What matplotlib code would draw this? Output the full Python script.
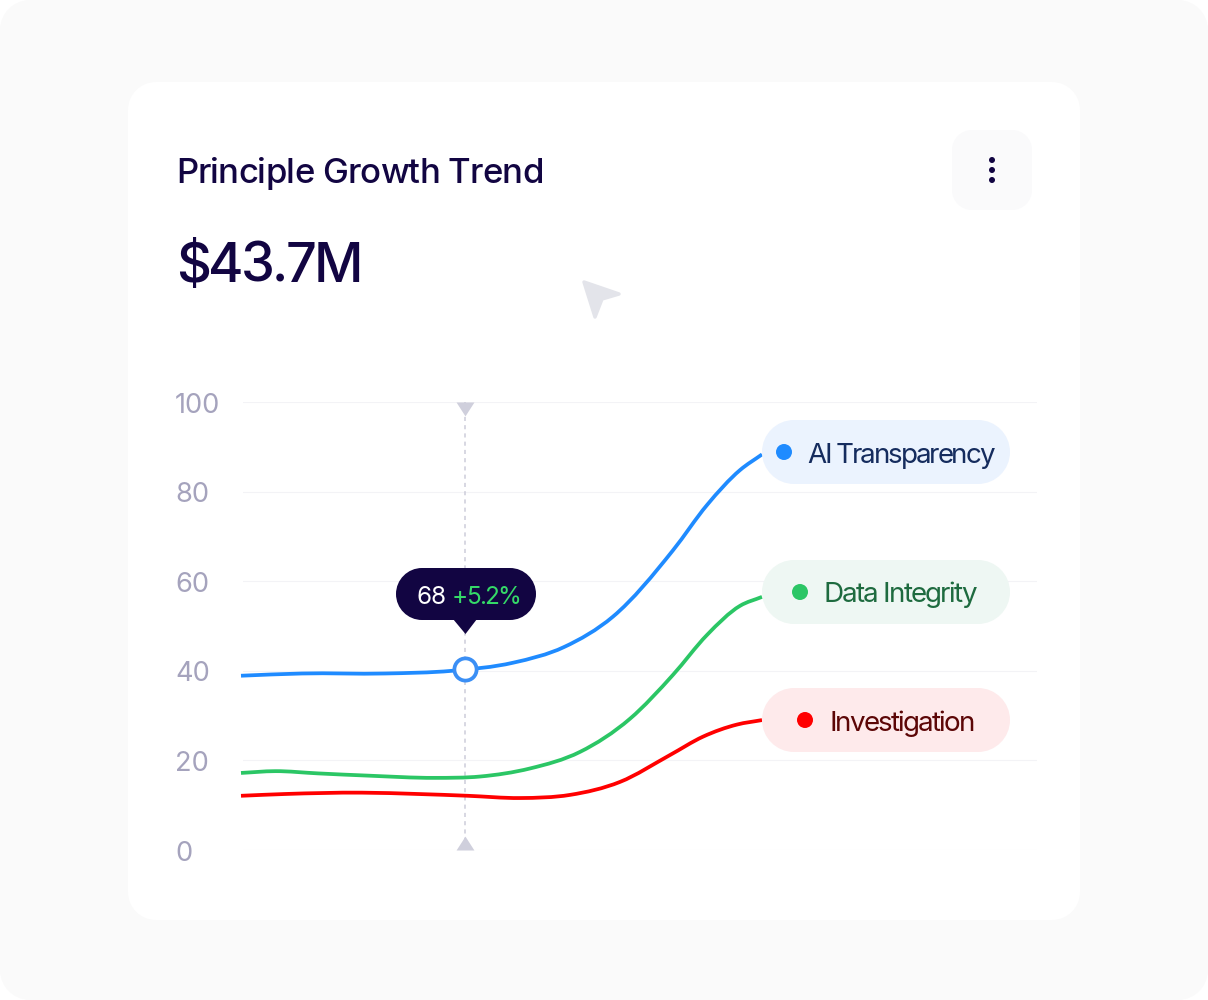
import numpy as np
import matplotlib
matplotlib.use("Agg")
import matplotlib.pyplot as plt
from matplotlib.patches import PathPatch, Polygon, Circle
from matplotlib.path import Path
from matplotlib.text import Text
from matplotlib.transforms import Affine2D, IdentityTransform

plt.rcParams["font.family"] = ["Inter", "DejaVu Sans"]

# values, x is the horizontal position along the chart
y_ticks = [0, 20, 40, 60, 80, 100]

blue_x = [241, 302, 385, 452, 513, 564, 613, 673, 707, 740, 762]
blue_y = [38.9, 39.4, 39.4, 40.0, 41.8, 45.3, 52.1, 66.9, 77.0, 84.8, 88.3]
green_x = [241, 275, 318, 368, 435, 480, 530, 580, 630, 673, 707, 740, 762]
green_y = [17.2, 17.6, 17.1, 16.6, 16.1, 16.4, 18.2, 21.9, 29.3, 39.1, 48.0, 54.5, 56.5]
red_x = [241, 285, 362, 418, 468, 520, 570, 620, 670, 703, 737, 762]
red_y = [12.1, 12.5, 12.8, 12.5, 12.1, 11.6, 12.3, 15.2, 21.2, 25.3, 28.0, 29.0]

marker_x = 465
marker_y = 40.3

W, H = 1208, 1000
NAVY = "#120542"


def smooth_path(xs, ys):
    # hermite through the points, written as cubic beziers
    x = np.asarray(xs, float)
    y = np.asarray(ys, float)
    m = np.gradient(y, x)
    verts = [(x[0], y[0])]
    codes = [Path.MOVETO]
    for i in range(len(x) - 1):
        d = (x[i + 1] - x[i]) / 3
        verts += [(x[i] + d, y[i] + d * m[i]), (x[i + 1] - d, y[i + 1] - d * m[i + 1]), (x[i + 1], y[i + 1])]
        codes += [Path.CURVE4] * 3
    return Path(verts, codes)


def rounded(ax, x0, y0, x1, y1, r, color, z=1):
    k = r * 0.4477
    verts = [(x0 + r, y0), (x1 - r, y0),
             (x1 - k, y0), (x1, y0 + k), (x1, y0 + r), (x1, y1 - r),
             (x1, y1 - k), (x1 - k, y1), (x1 - r, y1), (x0 + r, y1),
             (x0 + k, y1), (x0, y1 - k), (x0, y1 - r), (x0, y0 + r),
             (x0, y0 + k), (x0 + k, y0), (x0 + r, y0), (x0 + r, y0)]
    codes = [Path.MOVETO, Path.LINETO,
             Path.CURVE4, Path.CURVE4, Path.CURVE4, Path.LINETO,
             Path.CURVE4, Path.CURVE4, Path.CURVE4, Path.LINETO,
             Path.CURVE4, Path.CURVE4, Path.CURVE4, Path.LINETO,
             Path.CURVE4, Path.CURVE4, Path.CURVE4, Path.CLOSEPOLY]
    ax.add_patch(PathPatch(Path(verts, codes), fc=color, ec="none", zorder=z))


class TrackedText(Text):
    # one text whose letters are drawn closer together, tracking is in pixels
    def __init__(self, *args, tracking=0, **kwargs):
        super().__init__(*args, **kwargs)
        self.tracking = tracking

    def draw(self, renderer):
        s = self.get_text()
        fp = self.get_fontproperties()
        px, py = self.get_transform().transform(self.get_position())

        def width(sub):
            return renderer.get_text_width_height_descent(sub, fp, False)[0]

        for i, ch in enumerate(s):
            if ch == " ":
                continue
            off = width(s[:i + 1]) - width(ch) + i * self.tracking
            t = Text(px + off, py, ch, color=self.get_color(), fontproperties=fp, va="baseline",
                     ha="left", transform=IdentityTransform(), parse_math=False)
            t.set_figure(self.get_figure())
            t.draw(renderer)


def label(ax, x, y, s, size, color, tracking, weight="normal", z=7):
    ax.add_artist(TrackedText(x, y, s, tracking=tracking, fontsize=size, fontweight=weight, color=color,
                              va="baseline", ha="left", zorder=z, parse_math=False))


fig = plt.figure(figsize=(W / 100, H / 100), dpi=100, facecolor="white")

# page layer in pixel coordinates
bg = fig.add_axes([0, 0, 1, 1])
bg.set_xlim(0, W)
bg.set_ylim(H, 0)
bg.axis("off")
rounded(bg, 0, 0, W, H, 30, "#FAFAFA")
rounded(bg, 128, 82, 1080, 920, 28, "#FFFFFF", z=2)
rounded(bg, 952, 130, 1032, 210, 20, "#FAFAFB", z=3)
for cy in (160, 170, 180):
    bg.add_patch(Circle((992, cy), 3, fc=NAVY, ec="none", zorder=4))
bg.add_patch(Polygon([(584, 282), (619, 294), (602, 299), (595, 317)], closed=True,
                     fc="#E3E4EA", ec="#E3E4EA", lw=2.5, joinstyle="round", zorder=4))
label(bg, 176, 183, "Principle Growth Trend", 25, NAVY, -0.76, weight="medium", z=5)
label(bg, 176, 282, "$43.7M", 39, NAVY, -2.8, weight="medium", z=5)

# chart axes
ax = fig.add_axes([243 / W, 1 - 850 / H, (1037 - 243) / W, (850 - 402) / H])
ax.patch.set_alpha(0)
ax.set_xlim(243, 1037)
ax.set_ylim(0, 100)
for s in ax.spines.values():
    s.set_visible(False)
ax.set_xticks([])
ax.set_yticks(y_ticks)
ax.tick_params(axis="y", length=0, pad=49, labelcolor="#A5A3BD", labelsize=19.6)
for tick in ax.yaxis.get_major_ticks():
    tick.label1.set_ha("left")
    tick.label1.set_transform(tick.label1.get_transform() + Affine2D().translate(0, -0.6))
ax.grid(axis="y", color="#F3F3F6", lw=0.8)
ax.set_axisbelow(True)

for xs, ys, c in [(red_x, red_y, "#FF0000"), (green_x, green_y, "#2BC665"), (blue_x, blue_y, "#1F8BFF")]:
    ax.add_patch(PathPatch(smooth_path(xs, ys), fc="none", ec=c, lw=2.7, clip_on=False,
                           capstyle="butt", zorder=3))

tri_down = Path([(-9, 0), (9, 0), (0, -14), (-9, 0)], closed=True)
tri_up = Path([(-9, 0), (9, 0), (0, 14), (-9, 0)], closed=True)
ax.axvline(marker_x, color="#CDCDDA", lw=1.1, ls=(0, (2.7, 2.7)), zorder=2)
ax.plot([marker_x], [100], marker=tri_down, ms=20, color="#CFCFDC", mec="none", clip_on=False, zorder=2,
        linestyle="none")
ax.plot([marker_x], [0], marker=tri_up, ms=20, color="#CFCFDC", mec="none", clip_on=False, zorder=2,
        linestyle="none")
ax.plot([marker_x], [marker_y], marker="o", ms=16, mfc="white", mec="#3B8FF5", mew=2.7,
        clip_on=False, zorder=5, linestyle="none")

# overlay for tooltip and legend pills
top = fig.add_axes([0, 0, 1, 1])
top.set_xlim(0, W)
top.set_ylim(H, 0)
top.axis("off")
top.patch.set_alpha(0)

rounded(top, 396, 568, 536, 620, 26, NAVY, z=6)
top.add_patch(Polygon([(453, 619), (477, 619), (465.5, 634)], closed=True, fc=NAVY, ec="none", zorder=6))
label(top, 416, 604, "68", 17.5, "white", -0.6)
label(top, 451.5, 604, "+5.2%", 17.5, "#35DA68", -1.9)

pills = [
    (420, 484, "#EBF3FE", "#1F8BFF", 784, 807.5, "AI Transparency", "#152C5E", 463, -2.1),
    (560, 624, "#EEF7F3", "#2BC665", 800, 823.5, "Data Integrity", "#1E6B3F", 602, -1.8),
    (688, 752, "#FEEAEB", "#FF0000", 805, 829, "Investigation", "#5C0606", 731, -1.8),
]
for y0, y1, fill, dot, dot_x, text_x, name, tc, base, track in pills:
    rounded(top, 762, y0, 1010, y1, 32, fill, z=6)
    top.add_patch(Circle((dot_x, (y0 + y1) / 2), 8, fc=dot, ec="none", zorder=7))
    label(top, text_x, base, name, 20, tc, track)

fig.savefig("out.png", dpi=100)
